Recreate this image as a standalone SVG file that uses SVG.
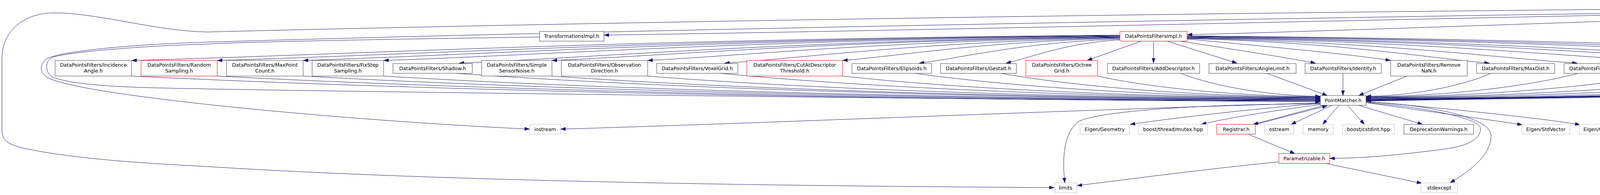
<svg xmlns="http://www.w3.org/2000/svg" width="6355" height="500" viewBox="0 0 6355 500">
<style>
.node rect{fill:#ffffff;stroke:#404040;stroke-width:1}
.red rect{stroke:#ff0000}
.ext rect{stroke:#bfbfbf}
.root rect{fill:#bfbfbf;stroke:#404040}
text{font-family:"DejaVu Sans","Liberation Sans",sans-serif;font-size:12.65px;text-anchor:middle;fill:#000000}
#edges path{fill:none;stroke:#191970;stroke-width:1;marker-end:url(#ah)}
</style>
<defs>
<marker id="ah" viewBox="0 0 13 9" refX="13" refY="4.5" markerWidth="13" markerHeight="9" orient="auto" markerUnits="userSpaceOnUse">
<path d="M0,0 L13,4.5 L0,9 z" fill="#191970" stroke="#191970" stroke-width="0.5"/>
</marker>
</defs>
<rect width="6355" height="500" fill="#ffffff"/>
<g id="edges">
<path d="M5291,17 C4600,25 2600,75 1546,90"/>
<path d="M5291,22 C4700,30 3600,75 3039,89"/>
<path d="M5291,31 L5100,80"/>
<path d="M5323,32 L5217,80"/>
<path d="M5345,32 L5345,80"/>
<path d="M5377,32 L5497,80"/>
<path d="M5399,28 L5677,80"/>
<path d="M5399,25 C5600,45 5800,70 5882,81"/>
<path d="M5399,22 C5650,35 5900,60 6088,81"/>
<path d="M5399,19 C5750,28 6100,55 6278,81"/>
<path d="M5399,24 C5700,30 6000,60 6030,90 C6045,125 5980,185 5830,200 C5300,230 4000,250 3497,259"/>
<path d="M5291,19 C4200,30 1800,70 530,108 C300,115 140,135 118,152 C100,168 100,190 130,203 C250,250 900,310 1356,331"/>
<path d="M5291,15 C4000,22 2000,45 530,82 C400,80 250,33 140,33 C60,33 5,80 5,150 L5,333 C5,360 20,370 60,380 C200,410 400,420 530,427 C1200,470 2200,478 2699,481"/>
<path d="M1381,95 C1000,100 600,108 530,113 C350,118 160,135 132,148 C115,158 115,185 133,197 C200,225 400,225 530,228 C1200,240 2800,258 3380,261"/>
<path d="M2867,90 C1602,100 843,142 337,155"/>
<path d="M2867,91 C1711,101 1018,142 556,155"/>
<path d="M2867,92 C1821,101 1194,142 776,155"/>
<path d="M2867,93 C1924,102 1359,143 982,155"/>
<path d="M2867,94 C2021,104 1513,148 1175,162"/>
<path d="M2867,95 C2140,104 1704,143 1413,155"/>
<path d="M2867,96 C2262,105 1900,143 1658,155"/>
<path d="M2867,97 C2361,107 2057,149 1855,162"/>
<path d="M2867,98 C2512,107 2299,144 2157,155"/>
<path d="M2867,100 C2610,109 2456,150 2353,162"/>
<path d="M2867,102 C2721,111 2633,150 2575,162"/>
<path d="M2920,106 L2783,155"/>
<path d="M2953,106 L2953,162"/>
<path d="M2989,106 L3167,162"/>
<path d="M3025,106 C3100,118 3250,140 3368,162"/>
<path d="M3039,100 C3200,115 3450,138 3560,155"/>
<path d="M3039,99 C3426,108 3658,149 3813,162"/>
<path d="M3039,98 C3538,108 3838,149 4038,162"/>
<path d="M3039,97 C3631,106 3987,143 4224,155"/>
<path d="M3039,96 C3745,105 4169,143 4451,155"/>
<path d="M3039,95 C3886,105 4394,149 4733,162"/>
<path d="M3039,94 C3992,103 4564,143 4945,155"/>
<path d="M3039,93 C4096,102 4731,143 5154,155"/>
<path d="M3039,92 C4210,101 4913,142 5381,155"/>
<path d="M5101,106 C5250,122 5470,112 5592,163"/>
<path d="M5101,106 C5200,112 5650,110 5710,135 C5740,150 5720,180 5690,197 C5500,225 4200,245 3497,255"/>
<path d="M5245,106 C5400,120 5640,130 5665,160 C5680,180 5670,195 5640,200 C5400,225 4200,245 3497,256"/>
<path d="M5421,106 C5550,125 5700,140 5720,165 C5730,180 5720,195 5700,200 C5400,228 4200,246 3497,257"/>
<path d="M5610,106 C5680,115 5760,140 5750,172 C5745,190 5730,197 5700,200 C5400,228 4200,246 3497,257"/>
<path d="M5750,106 C5775,130 5790,175 5760,197 C5600,215 4300,245 3497,258"/>
<path d="M5935,106 C5890,145 5840,185 5760,200 C5500,225 4200,246 3497,258"/>
<path d="M6163,106 C6120,170 6080,195 6050,198 C5900,210 5860,215 5800,220 C5000,240 4000,250 3497,259"/>
<path d="M337,195 C1098,233 2315,258 3380,259"/>
<path d="M556,195 C1262,233 2392,257 3380,258"/>
<path d="M776,195 C1427,232 2469,256 3380,257"/>
<path d="M982,195 C1582,232 2541,255 3380,256"/>
<path d="M1167,188 C1720,228 2605,254 3380,255"/>
<path d="M1413,195 C1905,230 2692,253 3380,254"/>
<path d="M1658,195 C2089,230 2777,252 3380,253"/>
<path d="M1845,188 C2229,226 2843,251 3380,252"/>
<path d="M2157,195 C2463,229 2952,250 3380,251"/>
<path d="M2343,188 C2602,225 3017,249 3380,250"/>
<path d="M2563,188 C2767,225 3094,248 3380,249"/>
<path d="M2810,195 C2953,227 3180,247 3380,248"/>
<path d="M3022,188 C3112,223 3255,246 3380,247"/>
<path d="M3243,188 L3398,245"/>
<path d="M3438,188 L3438,245"/>
<path d="M3602,195 L3478,245"/>
<path d="M3817,188 C3737,223 3609,246 3497,247"/>
<path d="M4040,188 C3904,224 3687,247 3497,248"/>
<path d="M4224,195 C4042,227 3751,248 3497,249"/>
<path d="M4451,195 C4213,228 3831,249 3497,250"/>
<path d="M4740,188 C4430,226 3931,250 3497,251"/>
<path d="M4945,195 C4583,229 4004,251 3497,252"/>
<path d="M5154,195 C4740,230 4077,252 3497,253"/>
<path d="M5381,195 C4910,230 4156,253 3497,254"/>
<path d="M3380,264 C2800,280 1900,318 1435,331"/>
<path d="M3380,266 C3000,268 2800,290 2760,312 C2725,340 2718,400 2726,469"/>
<path d="M3380,265 C3200,280 3000,303 2893,319"/>
<path d="M3380,268 C3250,285 3130,305 3075,319"/>
<path d="M3390,270 L3208,319"/>
<path d="M3214,319 L3398,271"/>
<path d="M3410,270 L3305,319"/>
<path d="M3428,270 L3386,319"/>
<path d="M3450,270 L3493,319"/>
<path d="M3478,270 L3642,319"/>
<path d="M3497,263 C3650,285 3800,305 3897,320"/>
<path d="M3497,260 C3700,278 3950,303 4045,320"/>
<path d="M3497,263 C3620,272 3790,300 3790,330 C3790,360 3750,375 3700,382 C3600,395 3500,406 3404,406"/>
<path d="M3497,261 C3650,268 3817,300 3817,347 C3817,400 3760,440 3712,469"/>
<path d="M3195,344 L3315,394"/>
<path d="M3274,415 C3100,432 2900,458 2757,476"/>
<path d="M3393,419 L3640,470"/>
</g>
<g id="n_registry" class="node root"><rect x="5291" y="6" width="108" height="26"/><text x="5345" y="23.5">Registry.cpp</text></g>
<g id="n_transformationsimpl" class="node"><rect x="1381" y="80.5" width="165" height="25"/><text x="1463.5" y="97.3">TransformationsImpl.h</text></g>
<g id="n_datapointsfiltersimpl" class="node red"><rect x="2867" y="80.5" width="172" height="25"/><text x="2953" y="97.3">DataPointsFiltersImpl.h</text></g>
<g id="n_loggerimpl" class="node"><rect x="4996" y="80.5" width="105" height="25"/><text x="5048.5" y="97.3">LoggerImpl.h</text></g>
<g id="n_matchersimpl" class="node red"><rect x="5124" y="80.5" width="121" height="25"/><text x="5184.5" y="97.3">MatchersImpl.h</text></g>
<g id="n_outlierfiltersimpl" class="node"><rect x="5269" y="80.5" width="152" height="25"/><text x="5345" y="97.3">OutlierFiltersImpl.h</text></g>
<g id="n_errorminimizersimpl" class="node red"><rect x="5445" y="80.5" width="165" height="25"/><text x="5527.5" y="97.3">ErrorMinimizersImpl.h</text></g>
<g id="n_transformationcheckersimpl" class="node"><rect x="5633" y="80.5" width="225" height="25"/><text x="5745.5" y="97.3">TransformationCheckersImpl.h</text></g>
<g id="n_inspectorsimpl" class="node red"><rect x="5882" y="80.5" width="131" height="25"/><text x="5947.5" y="97.3">InspectorsImpl.h</text></g>
<g id="n_pointmatcherprivate" class="node"><rect x="6088" y="80.5" width="165" height="25"/><text x="6170.5" y="97.3">PointMatcherPrivate.h</text></g>
<g id="n_cassert" class="node ext"><rect x="6278" y="80.5" width="69" height="25"/><text x="6312.5" y="97.3">cassert</text></g>
<g id="n_incidenceangle" class="node"><rect x="141" y="155" width="196" height="40"/><text x="239" y="170.8">DataPointsFilters/Incidence</text><text x="239" y="186">Angle.h</text></g>
<g id="n_randomsampling" class="node red"><rect x="361" y="155" width="195" height="40"/><text x="458.5" y="170.8">DataPointsFilters/Random</text><text x="458.5" y="186">Sampling.h</text></g>
<g id="n_maxpointcount" class="node"><rect x="580" y="155" width="196" height="40"/><text x="678" y="170.8">DataPointsFilters/MaxPoint</text><text x="678" y="186">Count.h</text></g>
<g id="n_fixstepsampling" class="node"><rect x="799" y="155" width="183" height="40"/><text x="890.5" y="170.8">DataPointsFilters/FixStep</text><text x="890.5" y="186">Sampling.h</text></g>
<g id="n_shadow" class="node"><rect x="1006" y="163" width="203" height="25"/><text x="1107.5" y="179.6">DataPointsFilters/Shadow.h</text></g>
<g id="n_simplesensornoise" class="node"><rect x="1233" y="155" width="180" height="40"/><text x="1323" y="170.8">DataPointsFilters/Simple</text><text x="1323" y="186">SensorNoise.h</text></g>
<g id="n_observationdirection" class="node"><rect x="1437" y="155" width="221" height="40"/><text x="1547.5" y="170.8">DataPointsFilters/Observation</text><text x="1547.5" y="186">Direction.h</text></g>
<g id="n_voxelgrid" class="node"><rect x="1681" y="163" width="208" height="25"/><text x="1785" y="179.6">DataPointsFilters/VoxelGrid.h</text></g>
<g id="n_cutatdescriptorthreshold" class="node red"><rect x="1912" y="155" width="245" height="40"/><text x="2034.5" y="170.8">DataPointsFilters/CutAtDescriptor</text><text x="2034.5" y="186">Threshold.h</text></g>
<g id="n_elipsoids" class="node"><rect x="2181" y="163" width="204" height="25"/><text x="2283" y="179.6">DataPointsFilters/Elipsoids.h</text></g>
<g id="n_gestalt" class="node"><rect x="2408" y="163" width="194" height="25"/><text x="2505" y="179.6">DataPointsFilters/Gestalt.h</text></g>
<g id="n_octreegrid" class="node red"><rect x="2626" y="155" width="184" height="40"/><text x="2718" y="170.8">DataPointsFilters/Octree</text><text x="2718" y="186">Grid.h</text></g>
<g id="n_adddescriptor" class="node"><rect x="2835" y="163" width="236" height="25"/><text x="2953" y="179.6">DataPointsFilters/AddDescriptor.h</text></g>
<g id="n_anglelimit" class="node"><rect x="3095" y="163" width="223" height="25"/><text x="3206.5" y="179.6">DataPointsFilters/AngleLimit.h</text></g>
<g id="n_identity" class="node"><rect x="3341" y="163" width="195" height="25"/><text x="3438.5" y="179.6">DataPointsFilters/Identity.h</text></g>
<g id="n_removenan" class="node"><rect x="3560" y="155" width="196" height="40"/><text x="3658" y="170.8">DataPointsFilters/Remove</text><text x="3658" y="186">NaN.h</text></g>
<g id="n_maxdist" class="node"><rect x="3780" y="163" width="200" height="25"/><text x="3880" y="179.6">DataPointsFilters/MaxDist.h</text></g>
<g id="n_mindist" class="node"><rect x="4004" y="163" width="196" height="25"/><text x="4102" y="179.6">DataPointsFilters/MinDist.h</text></g>
<g id="n_boundingbox" class="node"><rect x="4224" y="155" width="203" height="40"/><text x="4325.5" y="170.8">DataPointsFilters/Bounding</text><text x="4325.5" y="186">Box.h</text></g>
<g id="n_maxquantileonaxis" class="node"><rect x="4451" y="155" width="217" height="40"/><text x="4559.5" y="170.8">DataPointsFilters/MaxQuantile</text><text x="4559.5" y="186">OnAxis.h</text></g>
<g id="n_maxdensity" class="node"><rect x="4691" y="163" width="230" height="25"/><text x="4806" y="179.6">DataPointsFilters/MaxDensity.h</text></g>
<g id="n_surfacenormal" class="node red"><rect x="4945" y="155" width="185" height="40"/><text x="5037.5" y="170.8">DataPointsFilters/Surface</text><text x="5037.5" y="186">Normal.h</text></g>
<g id="n_samplingsurfacenormal" class="node"><rect x="5154" y="155" width="203" height="40"/><text x="5255.5" y="170.8">DataPointsFilters/Sampling</text><text x="5255.5" y="186">SurfaceNormal.h</text></g>
<g id="n_orientnormals" class="node"><rect x="5381" y="155" width="175" height="40"/><text x="5468.5" y="170.8">DataPointsFilters/Orient</text><text x="5468.5" y="186">Normals.h</text></g>
<g id="n_fstream" class="node ext"><rect x="5579" y="163" width="73" height="25"/><text x="5615.5" y="179.6">fstream</text></g>
<g id="n_pointmatcher" class="node"><rect x="3380" y="245" width="117" height="25"/><text x="3438.5" y="261.8">PointMatcher.h</text></g>
<g id="n_iostream" class="node ext"><rect x="1356" y="319" width="79" height="25"/><text x="1395.5" y="335.8">iostream</text></g>
<g id="n_eigengeometry" class="node ext"><rect x="2765" y="319" width="126" height="25"/><text x="2828" y="335.8">Eigen/Geometry</text></g>
<g id="n_mutex" class="node ext"><rect x="2915" y="319" width="176" height="25"/><text x="3003" y="335.8">boost/thread/mutex.hpp</text></g>
<g id="n_registrar" class="node red"><rect x="3115" y="319" width="99" height="25"/><text x="3164.5" y="335.8">Registrar.h</text></g>
<g id="n_ostream" class="node ext"><rect x="3237" y="319" width="75" height="25"/><text x="3274.5" y="335.8">ostream</text></g>
<g id="n_memory" class="node ext"><rect x="3336" y="319" width="77" height="25"/><text x="3374.5" y="335.8">memory</text></g>
<g id="n_cstdint" class="node ext"><rect x="3437" y="319" width="133" height="25"/><text x="3503.5" y="335.8">boost/cstdint.hpp</text></g>
<g id="n_deprecationwarnings" class="node"><rect x="3594" y="319" width="178" height="25"/><text x="3683" y="335.8">DeprecationWarnings.h</text></g>
<g id="n_eigenstdvector" class="node ext"><rect x="3896" y="319" width="123" height="25"/><text x="3957.5" y="335.8">Eigen/StdVector</text></g>
<g id="n_eigencore" class="node ext"><rect x="4043" y="319" width="90" height="25"/><text x="4088" y="335.8">Eigen/Core</text></g>
<g id="n_parametrizable" class="node red"><rect x="3274" y="394" width="130" height="25"/><text x="3339" y="410.8">Parametrizable.h</text></g>
<g id="n_limits" class="node ext"><rect x="2699" y="469" width="58" height="25"/><text x="2728" y="485.8">limits</text></g>
<g id="n_stdexcept" class="node ext"><rect x="3638" y="469" width="93" height="25"/><text x="3684.5" y="485.8">stdexcept</text></g>
</svg>
